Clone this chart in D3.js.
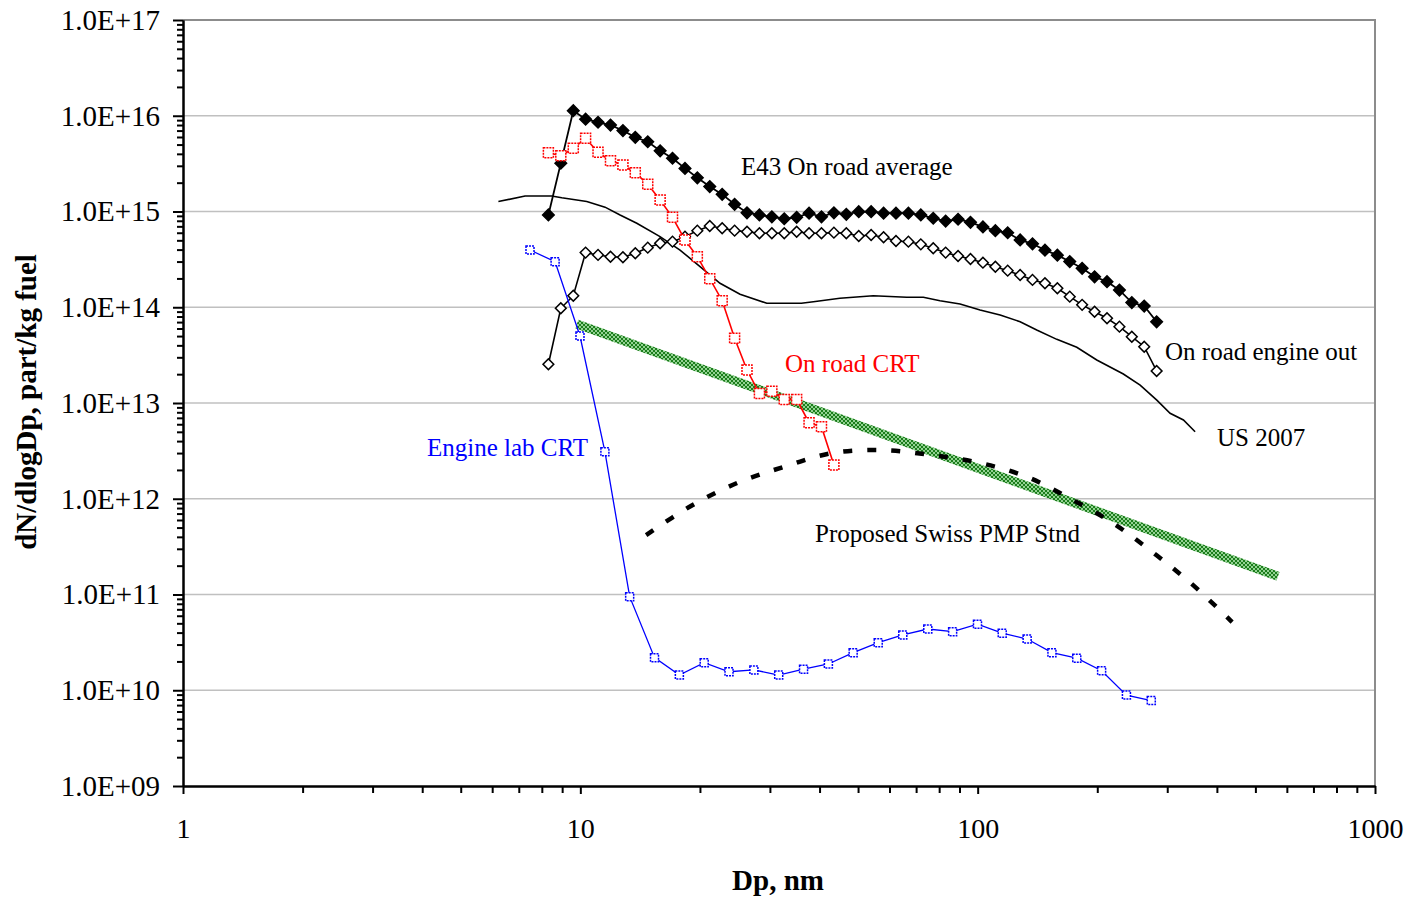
<!DOCTYPE html>
<html>
<head>
<meta charset="utf-8">
<script src="https://cdn.jsdelivr.net/npm/d3@7"></script>
<style>
  body { margin: 0; background: #fff; }
  text { font-family: "Liberation Serif", "Times New Roman", serif; }
</style>
</head>
<body>
<div id="chart"></div>
<script>
// SMPS channel midpoints (nm) shared by the on-road measurements
const smpsDp = [8.31, 8.93, 9.60, 10.31, 11.08, 11.91, 12.80, 13.75, 14.78, 15.88,
  17.06, 18.34, 19.70, 21.17, 22.75, 24.45, 26.27, 28.23, 30.34, 32.60,
  35.03, 37.64, 40.45, 43.47, 46.71, 50.20, 53.94, 57.97, 62.29, 66.94,
  71.93, 77.30, 83.06, 89.26, 95.92, 103.1, 110.8, 119.0, 127.9, 137.4,
  147.7, 158.7, 170.5, 183.2, 196.9, 211.6, 227.4, 244.3, 262.5, 282.1];

const e43Average = [9.2e14, 3.2e15, 1.13e16, 9.2e15, 8.55e15, 8.0e15, 7.0e15, 5.95e15, 5.35e15, 4.3e15,
  3.6e15, 2.82e15, 2.25e15, 1.82e15, 1.51e15, 1.19e15, 9.7e14, 9.2e14, 8.8e14, 8.4e14,
  8.7e14, 9.6e14, 8.8e14, 9.7e14, 9.35e14, 9.95e14, 9.95e14, 9.6e14, 9.6e14, 9.6e14,
  9.2e14, 8.5e14, 7.95e14, 8.3e14, 7.7e14, 6.9e14, 6.3e14, 6.0e14, 5.05e14, 4.6e14,
  3.95e14, 3.5e14, 3.0e14, 2.55e14, 2.08e14, 1.85e14, 1.51e14, 1.12e14, 1.03e14, 7.05e13];

const engineOut = [2.54e13, 9.75e13, 1.32e14, 3.72e14, 3.52e14, 3.37e14, 3.33e14, 3.66e14, 4.19e14, 4.66e14,
  4.84e14, 5.46e14, 6.31e14, 7.06e14, 6.68e14, 6.31e14, 6.15e14, 5.92e14, 5.92e14, 5.92e14,
  6.15e14, 5.92e14, 5.92e14, 6.01e14, 5.92e14, 5.55e14, 5.69e14, 5.38e14, 4.92e14, 4.84e14,
  4.54e14, 4.13e14, 3.72e14, 3.43e14, 3.19e14, 2.92e14, 2.65e14, 2.41e14, 2.17e14, 1.93e14,
  1.78e14, 1.58e14, 1.29e14, 1.06e14, 8.98e13, 7.67e13, 6.27e13, 4.92e13, 3.87e13, 2.16e13];

const onRoadCrt = [4.11e15, 3.83e15, 4.57e15, 5.82e15, 4.15e15, 3.39e15, 3.06e15, 2.54e15, 1.92e15, 1.32e15,
  8.69e14, 5.04e14, 3.37e14, 1.99e14, 1.17e14, 4.74e13, 2.21e13, 1.26e13, 1.33e13, 1.09e13,
  1.09e13, 6.22e12, 5.65e12, 2.25e12];

// engine lab runs used a coarser channel set
const labDp = [7.47, 8.64, 9.98, 11.53, 13.31, 15.37, 17.75, 20.50, 23.67, 27.34,
  31.57, 36.46, 42.1, 48.6, 56.2, 64.8, 74.9, 86.5, 99.9, 115.3,
  133.2, 153.8, 177.6, 205.1, 236.8, 273.5];
const labCrt = [3.96e14, 2.99e14, 5.01e13, 3.10e12, 9.5e10, 2.19e10, 1.44e10, 1.94e10, 1.56e10, 1.63e10,
  1.44e10, 1.66e10, 1.88e10, 2.47e10, 3.14e10, 3.78e10, 4.36e10, 4.09e10, 4.89e10, 3.94e10,
  3.43e10, 2.47e10, 2.16e10, 1.60e10, 8.9e9, 7.8e9];

const us2007Dp = [6.22, 7.26, 8.47, 8.98, 10.38, 11.54, 12.59, 13.87, 15.87, 17.82,
  20.01, 22.47, 25.23, 29.46, 36.0, 38.6, 45.0, 54.6, 66.3, 73.0,
  80.4, 90.3, 101.4, 113.9, 127.9, 140.8, 158.2, 177.6, 199.4, 232.6,
  256.4, 282.4, 305.0, 329.5, 352.6];
const us2007 = [1.27e15, 1.45e15, 1.45e15, 1.39e15, 1.27e15, 1.11e15, 9.18e14, 7.53e14, 5.46e14, 3.96e14,
  2.65e14, 1.78e14, 1.37e14, 1.10e14, 1.10e14, 1.14e14, 1.24e14, 1.32e14, 1.27e14, 1.27e14,
  1.17e14, 1.08e14, 9.36e13, 8.30e13, 7.06e13, 5.78e13, 4.62e13, 3.82e13, 2.81e13, 2.01e13,
  1.54e13, 1.07e13, 7.80e12, 6.64e12, 5.01e12];

const swissDp = [14.64, 18.98, 24.9, 32.6, 42.9, 57.3, 76.4, 100.7, 132.7, 170.5, 219.2, 274.6, 344.3, 436.9];
const swissPmp = [4.18e11, 8.4e11, 1.47e12, 2.16e12, 2.99e12, 3.23e12, 2.86e12, 2.38e12, 1.70e12, 1.01e12,
  5.55e11, 2.80e11, 1.31e11, 5.16e10];

const trendDp = [9.8, 570];
const trendValues = [6.7e13, 1.55e11];

const xTicks = [1, 10, 100, 1000];
const yTicks = [1e9, 1e10, 1e11, 1e12, 1e13, 1e14, 1e15, 1e16, 1e17];

drawChart();

function drawChart() {

  let margin = {
      top: 20,
      right: 33,
      bottom: 111,
      left: 183
    },
    width = 1408 - margin.left - margin.right,
    height = 897 - margin.top - margin.bottom;

  let root = d3.select("#chart")
    .append("svg")
    .attr("width", width + margin.left + margin.right)
    .attr("height", height + margin.top + margin.bottom);

  let defs = root.append("defs");
  let pat = defs.append("pattern")
    .attr("id", "green-check")
    .attr("width", 4)
    .attr("height", 4)
    .attr("patternUnits", "userSpaceOnUse");
  pat.append("rect").attr("width", 4).attr("height", 4).attr("fill", "#93d393");
  pat.append("rect").attr("width", 2).attr("height", 2).attr("fill", "#1c7d1c");
  pat.append("rect").attr("x", 2).attr("y", 2).attr("width", 2).attr("height", 2).attr("fill", "#1c7d1c");

  let svg = root.append("g")
    .attr("transform", translate(margin.left, margin.top));

  let x = d3.scaleLog()
    .domain([1, 1000])
    .range([0, width]);

  let y = d3.scaleLog()
    .domain([1e9, 1e17])
    .range([height, 0]);

  // gridlines and frame
  svg.selectAll(".grid")
    .data(yTicks.slice(1, -1))
    .enter().append("line")
    .attr("x1", 0)
    .attr("x2", width)
    .attr("y1", d => y(d))
    .attr("y2", d => y(d))
    .attr("stroke", "#c0c0c0")
    .attr("stroke-width", 1.5);

  svg.append("path")
    .attr("d", "M0," + y(1e17) + "H" + width + "V" + height)
    .attr("fill", "none")
    .attr("stroke", "#8c8c8c")
    .attr("stroke-width", 2);

  // axes: majors with labels, minors without
  // exponent always written with two digits, e.g. 1.0E+09
  let expFmt = function(d) {
    let p = d.toExponential(1).toUpperCase().split("E");
    let sign = p[1].charAt(0);
    let digits = p[1].slice(1);
    if (digits.length < 2) digits = "0" + digits;
    return p[0] + "E" + sign + digits;
  };
  let minorY = y.ticks().filter(d => yTicks.indexOf(d) < 0);
  let minorX = x.ticks().filter(d => xTicks.indexOf(d) < 0);

  let yAxis = svg.append("g")
    .call(d3.axisLeft(y).tickValues(yTicks).tickFormat(expFmt).tickSize(10).tickPadding(13).tickSizeOuter(0));
  svg.append("g")
    .call(d3.axisLeft(y).tickValues(minorY).tickFormat("").tickSize(6).tickSizeOuter(0));

  let xAxis = svg.append("g")
    .attr("transform", translate(0, height))
    .call(d3.axisBottom(x).tickValues(xTicks).tickFormat(d3.format("d")).tickSize(8).tickPadding(24).tickSizeOuter(0));
  svg.append("g")
    .attr("transform", translate(0, height))
    .call(d3.axisBottom(x).tickValues(minorX).tickFormat("").tickSize(7).tickSizeOuter(0));

  svg.selectAll(".domain, .tick line")
    .attr("stroke", "#000")
    .attr("stroke-width", 2);
  yAxis.selectAll("text")
    .style("font-family", "'Liberation Serif', 'Times New Roman', serif")
    .style("font-size", "29px")
    .attr("fill", "#000");
  xAxis.selectAll("text")
    .style("font-family", "'Liberation Serif', 'Times New Roman', serif")
    .style("font-size", "28px")
    .attr("fill", "#000");

  let line = d3.line()
    .x(d => x(d[0]))
    .y(d => y(d[1]));

  // -1.5 slope reference band
  svg.append("path")
    .attr("d", line(d3.zip(trendDp, trendValues)))
    .attr("fill", "none")
    .attr("stroke", "url(#green-check)")
    .attr("stroke-width", 9);

  // proposed standard curve
  svg.append("path")
    .attr("d", line.curve(d3.curveCatmullRom)(d3.zip(swissDp, swissPmp)))
    .attr("fill", "none")
    .attr("stroke", "#000")
    .attr("stroke-width", 4.5)
    .attr("stroke-dasharray", "9,15");
  line.curve(d3.curveLinear);

  // US 2007
  svg.append("path")
    .attr("d", line(d3.zip(us2007Dp, us2007)))
    .attr("fill", "none")
    .attr("stroke", "#000")
    .attr("stroke-width", 1.6);

  function drawSeries(pts, opts) {
    svg.append("path")
      .attr("d", line(pts))
      .attr("fill", "none")
      .attr("stroke", opts.color)
      .attr("stroke-width", opts.lineWidth);
    svg.append("g")
      .selectAll("path")
      .data(pts)
      .enter().append("path")
      .attr("d", d3.symbol(d3.symbolSquare, opts.size * opts.size))
      .attr("transform", d => translate(x(d[0]), y(d[1])) + (opts.diamond ? " rotate(45)" : ""))
      .attr("fill", opts.fill)
      .attr("stroke", opts.color)
      .attr("stroke-width", 1.5)
      .attr("stroke-dasharray", opts.dash || null);
  }

  drawSeries(d3.zip(smpsDp, e43Average), {color: "#000", fill: "#000", size: 8.2, diamond: true, lineWidth: 1.8});
  drawSeries(d3.zip(smpsDp, engineOut), {color: "#000", fill: "#fff", size: 7.6, diamond: true, lineWidth: 1.6});
  drawSeries(d3.zip(smpsDp.slice(0, onRoadCrt.length), onRoadCrt), {color: "#ff0000", fill: "#fff", size: 10, lineWidth: 1.6, dash: "2,1"});
  drawSeries(d3.zip(labDp, labCrt), {color: "#0000ff", fill: "#fff", size: 8, lineWidth: 1.3, dash: "2,1"});

  // series labels
  let labels = [
    {text: "E43 On road average", px: 741, py: 175, color: "#000"},
    {text: "On road engine out", px: 1165, py: 360, color: "#000"},
    {text: "US 2007", px: 1217, py: 446, color: "#000"},
    {text: "On road CRT", px: 785, py: 372, color: "#ff0000"},
    {text: "Engine lab CRT", px: 427, py: 456, color: "#0000ff"},
    {text: "Proposed Swiss PMP Stnd", px: 815, py: 542, color: "#000"}
  ];
  root.selectAll(".series-label")
    .data(labels)
    .enter().append("text")
    .attr("class", "series-label")
    .attr("x", d => d.px)
    .attr("y", d => d.py)
    .attr("fill", d => d.color)
    .style("font-size", "25px")
    .text(d => d.text);

  // axis titles
  root.append("text")
    .attr("x", 778)
    .attr("y", 890)
    .attr("text-anchor", "middle")
    .style("font-size", "29px")
    .style("font-weight", "bold")
    .text("Dp, nm");

  root.append("text")
    .attr("transform", translate(36, 402) + " rotate(-90)")
    .attr("text-anchor", "middle")
    .style("font-size", "29px")
    .style("font-weight", "bold")
    .text("dN/dlogDp, part/kg fuel");

  function translate(x, y) {
    return 'translate(' + x + ',' + y + ')';
  }
}
</script>
</body>
</html>
